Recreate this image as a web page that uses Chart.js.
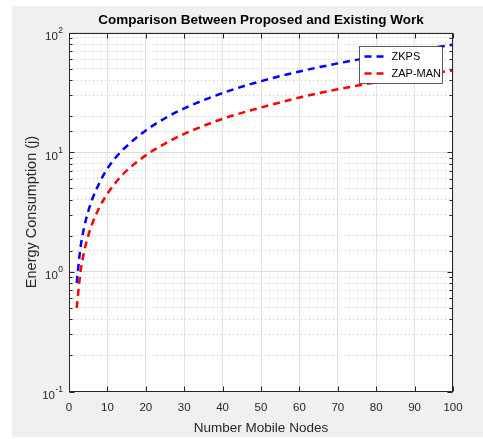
<!DOCTYPE html>
<html>
<head>
<meta charset="utf-8">
<script src="https://cdn.jsdelivr.net/npm/chart.js@4"></script>
<style>
  html, body { margin: 0; padding: 0; background: #ffffff; }
  canvas { display: block; }
</style>
</head>
<body>
<canvas id="c" width="483" height="439"></canvas>
<script>
// ---- data ----
const nodes  = [2, 3, 4, 5, 6, 8, 10, 12, 15, 20, 25, 30, 40, 50, 60, 70, 80, 90, 100];
const zkps   = [0.81, 1.6, 2.4, 3.2, 4.0, 5.6, 7.3, 8.9, 11.2, 15.2, 19.2, 23.2, 31.2, 39.2, 47.2, 55.2, 63.2, 71.0, 79.0];
const zapman = [0.5, 1.0, 1.5, 2.0, 2.5, 3.5, 4.5, 5.5, 7.0, 9.4, 11.8, 14.2, 19.0, 23.6, 28.6, 33.5, 38.4, 43.3, 48.2];
const seriesNames = ['ZKPS', 'ZAP-MAN'];
const xTickValues = [0, 10, 20, 30, 40, 50, 60, 70, 80, 90, 100];
const yTickValues = [0.1, 1, 10, 100];
const yTickBase = '10';
const yTickExponents = ['-1', '0', '1', '2'];
const titleText = 'Comparison Between Proposed and Existing Work';
const xTitle = 'Number Mobile Nodes';
const yTitle = 'Energy Consumption (j)';

const FONT = "'Liberation Sans', Arial, Helvetica, sans-serif";
const AXIS = '#262626';

function isDecade(v) {
  const l = Math.log10(v);
  return Math.abs(l - Math.round(l)) < 1e-6;
}

const framePlugin = {
  id: 'matlabFrame',
  beforeDraw(chart) {
    const { ctx, chartArea: a } = chart;
    ctx.save();
    ctx.fillStyle = '#ffffff';
    ctx.fillRect(0, 0, chart.width, chart.height);
    ctx.fillStyle = '#f0f0f0';
    ctx.fillRect(12, 6, chart.width - 12, 431);
    ctx.fillStyle = '#ffffff';
    ctx.fillRect(a.left, a.top, a.right - a.left, a.bottom - a.top);
    ctx.restore();
  },
  afterDatasetsDraw(chart) {
    const { ctx, chartArea: a, scales } = chart;
    const L = Math.round(a.left) + 0.5, R = Math.round(a.right) - 0.5;
    const T = Math.round(a.top) + 0.5, B = Math.round(a.bottom) - 0.5;
    ctx.save();
    ctx.strokeStyle = AXIS;
    ctx.lineWidth = 1;
    ctx.beginPath();
    scales.y.ticks.forEach(t => {
      const p = Math.round(scales.y.getPixelForValue(t.value)) + 0.5;
      const len = isDecade(t.value) ? 5 : 3;
      ctx.moveTo(L, p); ctx.lineTo(L + len, p);
      ctx.moveTo(R, p); ctx.lineTo(R - len, p);
    });
    scales.x.ticks.forEach(t => {
      const p = Math.round(scales.x.getPixelForValue(t.value)) + 0.5;
      ctx.moveTo(p, B); ctx.lineTo(p, B - 5);
      ctx.moveTo(p, T); ctx.lineTo(p, T + 5);
    });
    ctx.stroke();
    ctx.strokeRect(L, T, R - L, B - T);

    // title, centred over the plot area
    ctx.fillStyle = '#000000';
    ctx.font = 'bold 13.5px ' + FONT;
    ctx.textAlign = 'center';
    ctx.textBaseline = 'middle';
    ctx.fillText(titleText, (a.left + a.right) / 2, 20.5);

    // y tick labels: base + superscript exponent
    yTickValues.forEach((v, i) => {
      const p = scales.y.getPixelForValue(v);
      ctx.font = '8.5px ' + FONT;
      const ew = ctx.measureText(yTickExponents[i]).width;
      const xr = a.left - 6;
      ctx.fillStyle = AXIS;
      ctx.textAlign = 'right';
      ctx.textBaseline = 'alphabetic';
      ctx.fillText(yTickExponents[i], xr, p + 0.5);
      ctx.font = '11.5px ' + FONT;
      ctx.fillText(yTickBase, xr - ew - 0.5, p + 7.5);
    });

    // legend box
    const bw = 83, bh = 37;
    const bx = Math.round(a.right - 11.5 - bw) + 0.5;
    const by = Math.round(a.top + 13.5) + 0.5;
    ctx.fillStyle = '#ffffff';
    ctx.fillRect(bx, by, bw, bh);
    ctx.strokeStyle = '#333333';
    ctx.lineWidth = 0.8;
    ctx.strokeRect(bx, by, bw, bh);
    chart.data.datasets.forEach((ds, i) => {
      const yy = by + 10 + i * 17;
      ctx.save();
      ctx.strokeStyle = ds.borderColor;
      ctx.lineWidth = ds.borderWidth;
      ctx.setLineDash(ds.borderDash);
      ctx.beginPath();
      ctx.moveTo(bx + 5, yy);
      ctx.lineTo(bx + 27, yy);
      ctx.stroke();
      ctx.restore();
      ctx.fillStyle = '#000000';
      ctx.font = '11px ' + FONT;
      ctx.textBaseline = 'middle';
      ctx.textAlign = 'left';
      ctx.fillText(ds.label, bx + 32, yy + 0.5);
    });
    ctx.restore();
  }
};

const chart = new Chart(document.getElementById('c'), {
  type: 'line',
  data: {
    datasets: [
      {
        label: seriesNames[0],
        data: nodes.map((x, i) => ({ x: x, y: zkps[i] })),
        borderColor: '#0000ff',
        borderWidth: 2.5,
        borderDash: [7, 5],
        borderCapStyle: 'butt',
        pointRadius: 0,
        fill: false,
        cubicInterpolationMode: 'monotone'
      },
      {
        label: seriesNames[1],
        data: nodes.map((x, i) => ({ x: x, y: zapman[i] })),
        borderColor: '#ff0000',
        borderWidth: 2.5,
        borderDash: [7, 5],
        borderCapStyle: 'butt',
        pointRadius: 0,
        fill: false,
        cubicInterpolationMode: 'monotone'
      }
    ]
  },
  options: {
    responsive: false,
    animation: false,
    devicePixelRatio: 1,
    layout: { padding: { left: 0, right: 30, top: 32.5, bottom: 0 } },
    plugins: {
      legend: { display: false },
      tooltip: { enabled: false },
      title: { display: false }
    },
    scales: {
      x: {
        type: 'linear',
        min: 0,
        max: 100,
        afterFit(s) { s.height = 47.5; },
        afterBuildTicks(s) { s.ticks = xTickValues.map(v => ({ value: v })); },
        ticks: {
          color: AXIS,
          font: { family: FONT, size: 11.5 },
          padding: 9,
          maxRotation: 0,
          autoSkip: false
        },
        grid: { color: '#e2e2e2', lineWidth: 1, drawTicks: false },
        border: { display: false },
        title: {
          display: true,
          text: xTitle,
          color: AXIS,
          font: { family: FONT, size: 13.5 },
          padding: { top: 0, bottom: 2.5 }
        }
      },
      y: {
        type: 'logarithmic',
        min: 0.1,
        max: 100,
        afterFit(s) { s.width = 69; },
        ticks: {
          display: false,
          autoSkip: false
        },
        grid: {
          color: (ctx) => (ctx.tick && isDecade(ctx.tick.value)) ? '#dcdcdc' : '#c8c8c8',
          lineWidth: 1,
          drawTicks: false
        },
        border: {
          display: false,
          dash: (ctx) => (ctx.tick && isDecade(ctx.tick.value)) ? [] : [1, 3]
        },
        title: {
          display: true,
          text: yTitle,
          color: AXIS,
          font: { family: FONT, size: 14.5 },
          padding: { top: 23, bottom: 0 }
        }
      }
    }
  },
  plugins: [framePlugin]
});
</script>
</body>
</html>
